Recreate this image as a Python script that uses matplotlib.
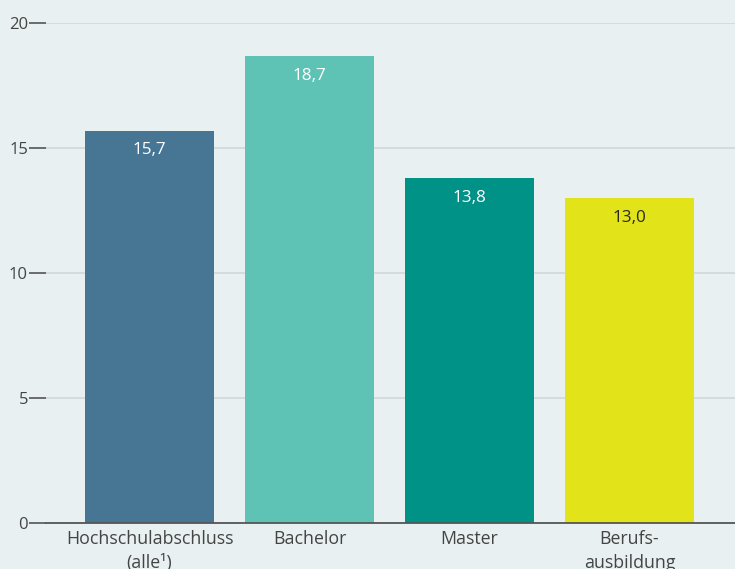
import matplotlib
matplotlib.use('Agg')
import matplotlib.pyplot as plt

categories = ['Hochschulabschluss\n(alle¹)', 'Bachelor', 'Master', 'Berufs-\nausbildung']
values = [15.7, 18.7, 13.8, 13.0]
value_labels = ['15,7', '18,7', '13,8', '13,0']
bar_colors = ['#477694', '#5ec3b5', '#009187', '#e2e318']
label_colors = ['white', 'white', 'white', '#2a2a2a']
yticks = [0, 5, 10, 15, 20]

plt.rcParams['font.family'] = ['Open Sans', 'DejaVu Sans']
bg = '#e8f0f1'

fig = plt.figure(figsize=(7.35, 5.69), dpi=100, facecolor=bg)
ax = fig.add_axes([46 / 735, 46 / 569, 1 - 46 / 735, 500 / 569])
ax.set_facecolor(bg)

x = list(range(len(categories)))
ax.bar(x, values, width=0.806, color=bar_colors, zorder=3)

for xi, v, lab, c in zip(x, values, value_labels, label_colors):
    ax.annotate(lab, (xi, v), xytext=(0, -20), textcoords='offset pixels',
                ha='center', va='center', fontsize=12.3, color=c, zorder=4)

ax.set_xlim(-0.647, 3.659)
ax.set_ylim(0, 20)
ax.set_yticks(yticks)
ax.set_yticklabels([str(t) for t in yticks])
ax.set_xticks(x)
ax.set_xticklabels(categories, fontsize=12.8, color='#444444', linespacing=1.45)

ax.yaxis.grid(True, color='#d2d9db', linewidth=1.3, zorder=0)
ax.tick_params(axis='y', length=12, width=1.2, color='#555555', labelsize=12,
               labelcolor='#444444', pad=1)
ax.tick_params(axis='x', length=0, pad=5)

for s in ['top', 'right', 'left']:
    ax.spines[s].set_visible(False)
ax.spines['bottom'].set_color('#555555')
ax.spines['bottom'].set_linewidth(1.3)
ax.spines['bottom'].set_zorder(5)

plt.savefig('out.png', dpi=100, facecolor=bg)
plt.close()
